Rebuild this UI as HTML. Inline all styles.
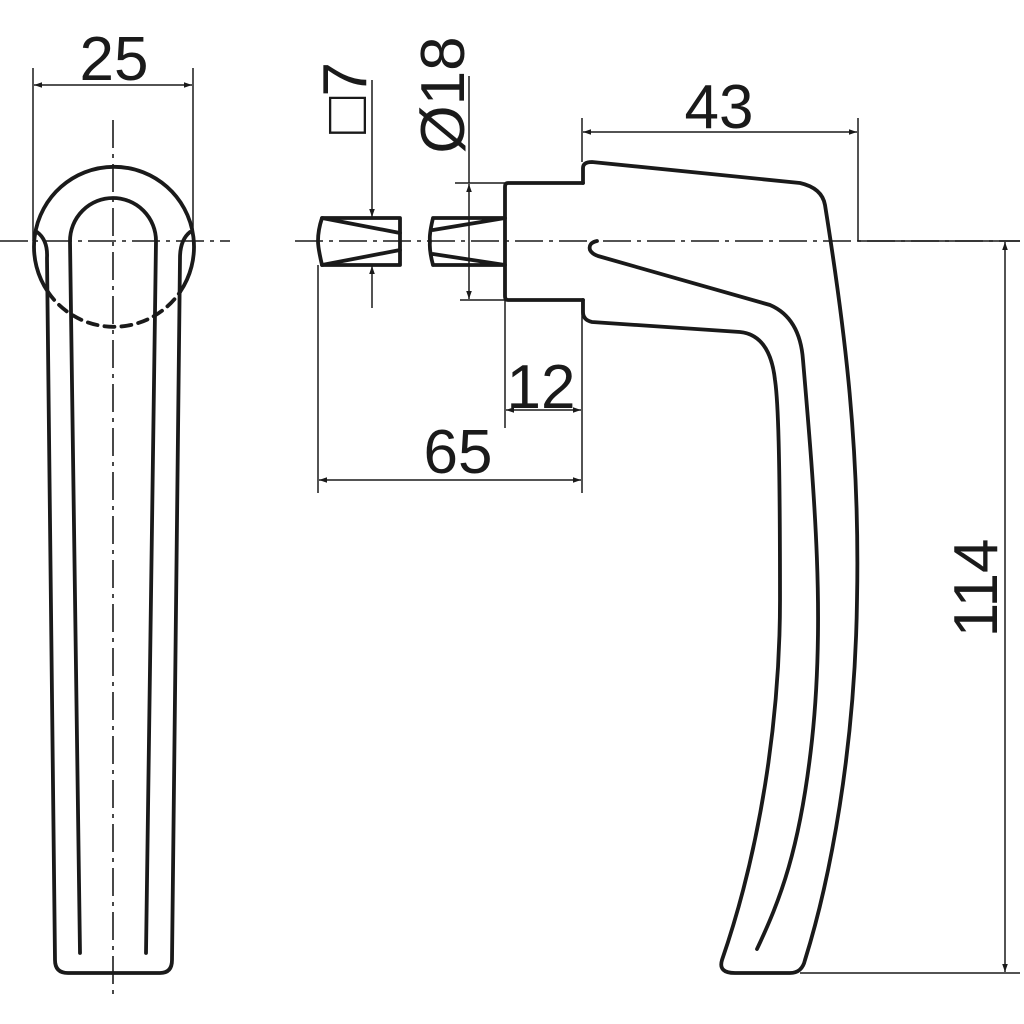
<!DOCTYPE html>
<html><head><style>html,body{margin:0;padding:0;background:#fff}svg{display:block}</style></head>
<body>
<svg width="1024" height="1024" viewBox="0 0 1024 1024" xmlns="http://www.w3.org/2000/svg">
<defs>
<marker id="a" viewBox="0 0 10 10" refX="10" refY="5" markerWidth="14" markerHeight="8" markerUnits="userSpaceOnUse" orient="auto-start-reverse"><path d="M0,1.5 L10,5 L0,8.5 z" fill="#1a1a1a"/></marker>
</defs>
<g fill="none" stroke="#1a1a1a">
<g stroke-width="1.6" stroke-dasharray="28,6,4,6">
<line x1="0" y1="241" x2="230" y2="241"/>
<line x1="295" y1="241" x2="1020" y2="241"/>
<line x1="113" y1="120" x2="113" y2="995"/>
</g>
<g stroke-width="3.8" stroke-linecap="round" stroke-linejoin="round">
<path d="M48,292 A80,80 0 1 1 180,292"/>
<path d="M48,292 A80,80 0 0 0 180,292" stroke-dasharray="10,7"/>
<path d="M37,232 Q48,240 47,258 L55,960 Q55,973 68,973 L160,973 Q172,973 172,960 L180,258 Q180,240 190,232"/>
<path d="M80,953 L70,241 A43,43 0 0 1 156,241 L146,953"/>
</g>
<g stroke-width="3.8" stroke-linejoin="round" stroke-linecap="round">
<path d="M322,218 L400,218 L400,265 L322,265 Q318,248 318,241 Q318,230 322,218 z"/>
<path d="M322,218 L400,233 M322,265 L400,250"/>
<path d="M433,218 L505,218 M433,265 L505,265 M433,218 Q429,235 430,241 Q429,250 433,265 M433,230 L505,218 M433,254 L505,265"/>
<path d="M508,183 L583,183 M508,183 Q505,183 505,187 L505,296 Q505,300 508,300 L583,300"/>
<path d="M583,183 L583,168 Q583,162 592,162 L800,183 Q822,188 825,205 C845,330 860,450 857,600 C855,750 830,880 805,960 Q802,973 790,973 L735,973 Q718,973 722,960 C760,850 780,720 780,600 C780,450 778,400 775,380 Q770,335 740,332 L592,322 Q583,320 583,312 L583,300"/>
<path d="M597,241 Q588,243 590,250 Q592,254 598,256 L770,305 Q800,318 803,360 C815,500 825,620 812,740 C800,850 780,900 757,949"/>
</g>
<g stroke-width="1.5">
<line x1="33" y1="68" x2="33" y2="241"/><line x1="193" y1="68" x2="193" y2="241"/>
<line x1="34" y1="85" x2="192" y2="85" marker-start="url(#a)" marker-end="url(#a)"/>
<line x1="582" y1="118" x2="582" y2="162"/><line x1="858" y1="118" x2="858" y2="241"/>
<line x1="583" y1="132" x2="857" y2="132" marker-start="url(#a)" marker-end="url(#a)"/>
<line x1="858" y1="241" x2="1020" y2="241"/><line x1="800" y1="973" x2="1020" y2="973"/>
<line x1="1005" y1="242" x2="1005" y2="972" marker-start="url(#a)" marker-end="url(#a)"/>
<line x1="318" y1="265" x2="318" y2="493"/><line x1="582" y1="300" x2="582" y2="493"/>
<line x1="319" y1="480" x2="581" y2="480" marker-start="url(#a)" marker-end="url(#a)"/>
<line x1="505" y1="300" x2="505" y2="428"/>
<line x1="506" y1="410" x2="581" y2="410" marker-start="url(#a)" marker-end="url(#a)"/>
<line x1="372" y1="80" x2="372" y2="217" marker-end="url(#a)"/>
<line x1="372" y1="308" x2="372" y2="266" marker-end="url(#a)"/>
<line x1="455" y1="183" x2="505" y2="183"/><line x1="460" y1="300" x2="505" y2="300"/>
<line x1="469" y1="76" x2="469" y2="183"/>
<line x1="469" y1="184" x2="469" y2="299" marker-start="url(#a)" marker-end="url(#a)"/>
</g>
</g>
<g font-family="Liberation Sans, sans-serif" font-size="62" fill="#1a1a1a" text-anchor="middle">
<text x="114" y="80">25</text>
<text x="719" y="128">43</text>
<text x="541" y="408">12</text>
<text x="458" y="473">65</text>
<text transform="translate(997,588) rotate(-90)">114</text>
<text transform="translate(366,98) rotate(-90)">□7</text>
<text transform="translate(464,95) rotate(-90)">Ø18</text>
</g>
</svg>
</body></html>
